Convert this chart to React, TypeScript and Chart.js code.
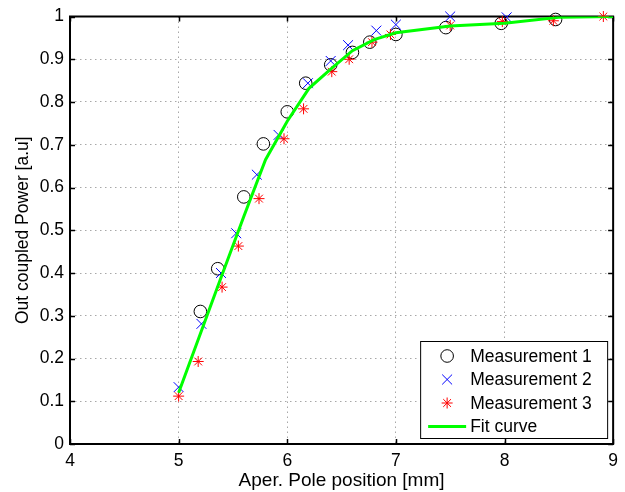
import React, { useEffect, useRef } from "react";
import { Chart, registerables } from "chart.js";

Chart.register(...registerables);

const m1X = [5.2, 5.36, 5.6, 5.78, 6.0, 6.17, 6.4, 6.6, 6.76, 7.0, 7.46, 7.97, 8.47];
const m1Y = [0.31, 0.41, 0.578, 0.702, 0.777, 0.844, 0.887, 0.916, 0.94, 0.958, 0.974, 0.984, 0.993];

const m2X = [5.0, 5.21, 5.39, 5.53, 5.72, 5.92, 6.19, 6.4, 6.56, 6.82, 7.0, 7.5, 8.02];
const m2Y = [0.133, 0.281, 0.4, 0.493, 0.63, 0.723, 0.844, 0.896, 0.933, 0.967, 0.981, 1.0, 0.998];

const m3X = [5.0, 5.18, 5.4, 5.55, 5.74, 5.97, 6.15, 6.41, 6.57, 6.78, 6.95, 7.5, 7.98, 8.45, 8.91];
const m3Y = [0.112, 0.193, 0.367, 0.463, 0.574, 0.714, 0.784, 0.871, 0.9, 0.94, 0.958, 0.979, 0.988, 0.99, 1.0];

const fitX = [5.0, 5.2, 5.4, 5.6, 5.8, 6.0, 6.2, 6.4, 6.6, 6.8, 7.0, 7.5, 8.0, 8.5, 9.0];
const fitY = [0.12, 0.258, 0.396, 0.532, 0.665, 0.755, 0.832, 0.877, 0.92, 0.946, 0.962, 0.978, 0.984, 0.998, 1.0];

const seriesLabels = ["Measurement 1", "Measurement 2", "Measurement 3", "Fit curve"];
const xAxisTitle = "Aper. Pole position [mm]";
const yAxisTitle = "Out coupled Power [a.u]";

const FONT = "'Liberation Sans', Arial, Helvetica, sans-serif";

const zip = (xs: number[], ys: number[]) => xs.map((x, i) => ({ x, y: ys[i] }));

function drawMarker(ctx: CanvasRenderingContext2D, kind: string, x: number, y: number, r: number, color: string) {
  ctx.save();
  ctx.strokeStyle = color;
  ctx.lineWidth = 1;
  ctx.beginPath();
  if (kind === "circle") {
    ctx.arc(x, y, r, 0, Math.PI * 2);
  } else if (kind === "crossRot") {
    const d = r * Math.SQRT1_2;
    ctx.moveTo(x - d, y - d);
    ctx.lineTo(x + d, y + d);
    ctx.moveTo(x - d, y + d);
    ctx.lineTo(x + d, y - d);
  } else if (kind === "star") {
    const d = r * Math.SQRT1_2;
    ctx.moveTo(x - r, y);
    ctx.lineTo(x + r, y);
    ctx.moveTo(x, y - r);
    ctx.lineTo(x, y + r);
    ctx.moveTo(x - d, y - d);
    ctx.lineTo(x + d, y + d);
    ctx.moveTo(x - d, y + d);
    ctx.lineTo(x + d, y - d);
  }
  ctx.stroke();
  ctx.restore();
}

const framePlugin = {
  id: "frame",
  beforeDatasetsDraw(chart: any) {
    const { ctx, chartArea: a, scales } = chart;
    ctx.save();
    ctx.strokeStyle = "#000";
    ctx.lineWidth = 2;
    ctx.strokeRect(a.left, a.top, a.right - a.left, a.bottom - a.top);
    ctx.lineWidth = 1.5;
    const tl = 5;
    ctx.beginPath();
    scales.x.ticks.forEach((t: any) => {
      const px = Math.round(scales.x.getPixelForValue(t.value)) + 0.5;
      ctx.moveTo(px, a.bottom);
      ctx.lineTo(px, a.bottom - tl);
      ctx.moveTo(px, a.top);
      ctx.lineTo(px, a.top + tl);
    });
    scales.y.ticks.forEach((t: any) => {
      const py = Math.round(scales.y.getPixelForValue(t.value)) + 0.5;
      ctx.moveTo(a.left, py);
      ctx.lineTo(a.left + tl, py);
      ctx.moveTo(a.right, py);
      ctx.lineTo(a.right - tl, py);
    });
    ctx.stroke();
    ctx.restore();
  },
  afterDraw(chart: any) {
    const { ctx, chartArea: a } = chart;
    const w = 187;
    const h = 97;
    const right = a.right - 6;
    const bottom = a.bottom - 6;
    const left = right - w;
    const top = bottom - h;
    ctx.save();
    ctx.fillStyle = "#fff";
    ctx.fillRect(left, top, w, h);
    ctx.strokeStyle = "#000";
    ctx.lineWidth = 1;
    ctx.strokeRect(left + 0.5, top + 0.5, w, h);
    const rows = [15, 38.5, 62, 85.5];
    const kinds = ["circle", "crossRot", "star", "line"];
    const colors = ["#000", "#0000ff", "#ff0000", "#00ff00"];
    const radii = [6.3, 7, 5.5, 0];
    ctx.font = `17.5px ${FONT}`;
    ctx.textBaseline = "middle";
    ctx.fillStyle = "#000";
    rows.forEach((ry, i) => {
      const y = top + ry;
      if (kinds[i] === "line") {
        ctx.save();
        ctx.strokeStyle = colors[i];
        ctx.lineWidth = 3;
        ctx.beginPath();
        ctx.moveTo(left + 8, y);
        ctx.lineTo(left + 46, y);
        ctx.stroke();
        ctx.restore();
      } else {
        drawMarker(ctx, kinds[i], left + 27, y, radii[i], colors[i]);
      }
      ctx.fillText(seriesLabels[i], left + 50, y + 1);
    });
    ctx.restore();
  },
};

export default function App() {
  const ref = useRef<HTMLCanvasElement>(null);
  useEffect(() => {
    document.body.style.margin = "0";
    const canvas = ref.current;
    if (!canvas) return;
    const edgeColor = (lo: number, hi: number) => (ctx: any) => {
      const v = ctx.tick ? ctx.tick.value : null;
      if (v === null || Math.abs(v - lo) < 1e-9 || Math.abs(v - hi) < 1e-9) return "rgba(0,0,0,0)";
      return "#a8a8a8";
    };
    const chart = new Chart(canvas, {
      type: "scatter",
      data: {
        datasets: [
          {
            label: seriesLabels[0],
            data: zip(m1X, m1Y),
            pointStyle: "circle",
            pointRadius: 6.3,
            borderColor: "#000",
            backgroundColor: "rgba(0,0,0,0)",
            borderWidth: 1,
            order: 3,
            clip: false,
          } as any,
          {
            label: seriesLabels[1],
            data: zip(m2X, m2Y),
            pointStyle: "crossRot",
            pointRadius: 7,
            borderColor: "#0000ff",
            backgroundColor: "#0000ff",
            borderWidth: 1,
            order: 2,
            clip: false,
          },
          {
            label: seriesLabels[2],
            data: zip(m3X, m3Y),
            pointStyle: "star",
            pointRadius: 5.5,
            borderColor: "#ff0000",
            backgroundColor: "#ff0000",
            borderWidth: 1,
            order: 1,
            clip: false,
          },
          {
            label: seriesLabels[3],
            data: zip(fitX, fitY),
            showLine: true,
            pointRadius: 0,
            borderColor: "#00ff00",
            backgroundColor: "#00ff00",
            borderWidth: 3,
            tension: 0,
            order: 0,
          },
        ],
      },
      options: {
        animation: false,
        responsive: false,
        maintainAspectRatio: false,
        layout: { padding: { top: 14, right: 10, left: 0, bottom: 0 } },
        plugins: { legend: { display: false }, tooltip: { enabled: false } },
        scales: {
          x: {
            type: "linear",
            min: 4,
            max: 9,
            afterFit: (s: any) => {
              s.height = 48;
            },
            ticks: {
              stepSize: 1,
              padding: 7,
              color: "#000",
              font: { family: FONT, size: 17.5 },
              maxRotation: 0,
            },
            grid: {
              drawTicks: false,
              color: edgeColor(4, 9),
              lineWidth: 1,
              borderDash: [1.5, 3.5],
            } as any,
            border: { display: false, dash: [1.5, 3.5] },
            title: {
              display: true,
              text: xAxisTitle,
              color: "#000",
              font: { family: FONT, size: 19 },
              padding: { top: 0, bottom: 0 },
            },
          },
          y: {
            type: "linear",
            min: 0,
            max: 1,
            afterFit: (s: any) => {
              s.width = 70;
            },
            ticks: {
              stepSize: 0.1,
              padding: 6,
              color: "#000",
              font: { family: FONT, size: 17.5 },
              callback: (v: any) => String(Number(Number(v).toFixed(1))),
            },
            grid: {
              drawTicks: false,
              color: edgeColor(0, 1),
              lineWidth: 1,
              borderDash: [1.5, 3.5],
            } as any,
            border: { display: false, dash: [1.5, 3.5] },
            title: {
              display: true,
              text: yAxisTitle,
              color: "#000",
              font: { family: FONT, size: 17.5 },
              padding: { top: 12.5, bottom: 0 },
            },
          },
        },
      },
      plugins: [framePlugin],
    });
    return () => chart.destroy();
  }, []);
  return (
    <div style={{ width: 625, height: 492, background: "#fff" }}>
      <canvas ref={ref} width={625} height={492} style={{ display: "block" }} />
    </div>
  );
}
